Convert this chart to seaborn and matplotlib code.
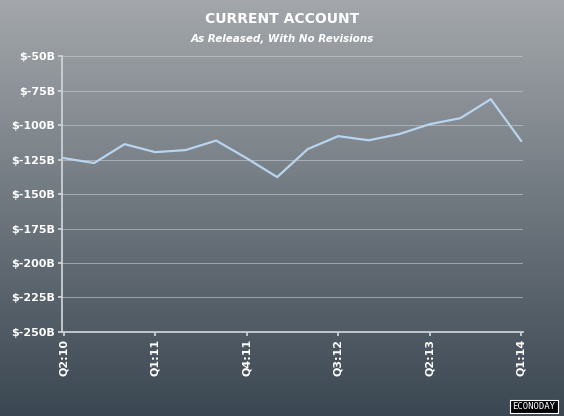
import numpy as np
import matplotlib
matplotlib.use("Agg")
import matplotlib.pyplot as plt
import seaborn as sns

quarters = ["Q2:10", "Q3:10", "Q4:10", "Q1:11", "Q2:11", "Q3:11", "Q4:11", "Q1:12",
            "Q2:12", "Q3:12", "Q4:12", "Q1:13", "Q2:13", "Q3:13", "Q4:13", "Q1:14"]
balance = [-123.9, -127.5, -113.8, -119.6, -118.1, -111.2, -124.0, -137.7,
           -117.4, -108.0, -111.0, -106.5, -99.3, -95.0, -81.2, -111.6]
shown_ticks = ["Q2:10", "Q1:11", "Q4:11", "Q3:12", "Q2:13", "Q1:14"]

sns.set_theme(style="white")
plt.rcParams["font.family"] = ["DejaVu Sans"]

fig = plt.figure(figsize=(5.64, 4.16), dpi=100)
# vertical gradient background
bg = fig.add_axes([0, 0, 1, 1], zorder=-10)
grad = np.linspace(0, 1, 256).reshape(-1, 1)
cmap = matplotlib.colors.LinearSegmentedColormap.from_list("bg", ["#a3a7ab", "#3b4752"])
bg.imshow(grad, aspect="auto", cmap=cmap, extent=[0, 1, 0, 1])
bg.axis("off")

ax = fig.add_axes([0.110, 0.202, 0.817, 0.663])
ax.patch.set_alpha(0)
x = np.arange(len(quarters))
sns.lineplot(x=x, y=balance, ax=ax, color="#b8d4ee", linewidth=1.6)

ax.set_xlim(-0.05, len(quarters) - 1 + 0.05)
ax.set_ylim(-250, -50)
yt = np.arange(-250, -49, 25)
ax.set_yticks(yt)
ax.set_yticklabels([f"$-{abs(v)}B" for v in yt], color="white", fontsize=8, fontweight="bold")
ax.set_xticks([quarters.index(q) for q in shown_ticks])
ax.set_xticklabels(shown_ticks, rotation=90, color="white", fontsize=8, fontweight="bold")
ax.grid(axis="y", color="#c8ccd0", linewidth=0.6, alpha=0.7)
for s in ["top", "right"]:
    ax.spines[s].set_visible(False)
for s in ["left", "bottom"]:
    ax.spines[s].set_color("#d0d4d8")
ax.tick_params(axis="both", length=3, color="#d0d4d8", bottom=True, left=True, pad=2)

fig.text(0.5, 0.945, "CURRENT ACCOUNT", ha="center", color="white", fontsize=10, fontweight="bold")
fig.text(0.5, 0.900, "As Released, With No Revisions", ha="center", color="white",
         fontsize=7.5, fontweight="bold", style="italic")
fig.text(0.985, 0.012, "ECONODAY", ha="right", va="bottom", color="white", fontsize=6.5,
         family="DejaVu Sans Mono",
         bbox=dict(facecolor="black", edgecolor="white", pad=1.5, linewidth=0.8))

fig.savefig("out.png", dpi=100)
